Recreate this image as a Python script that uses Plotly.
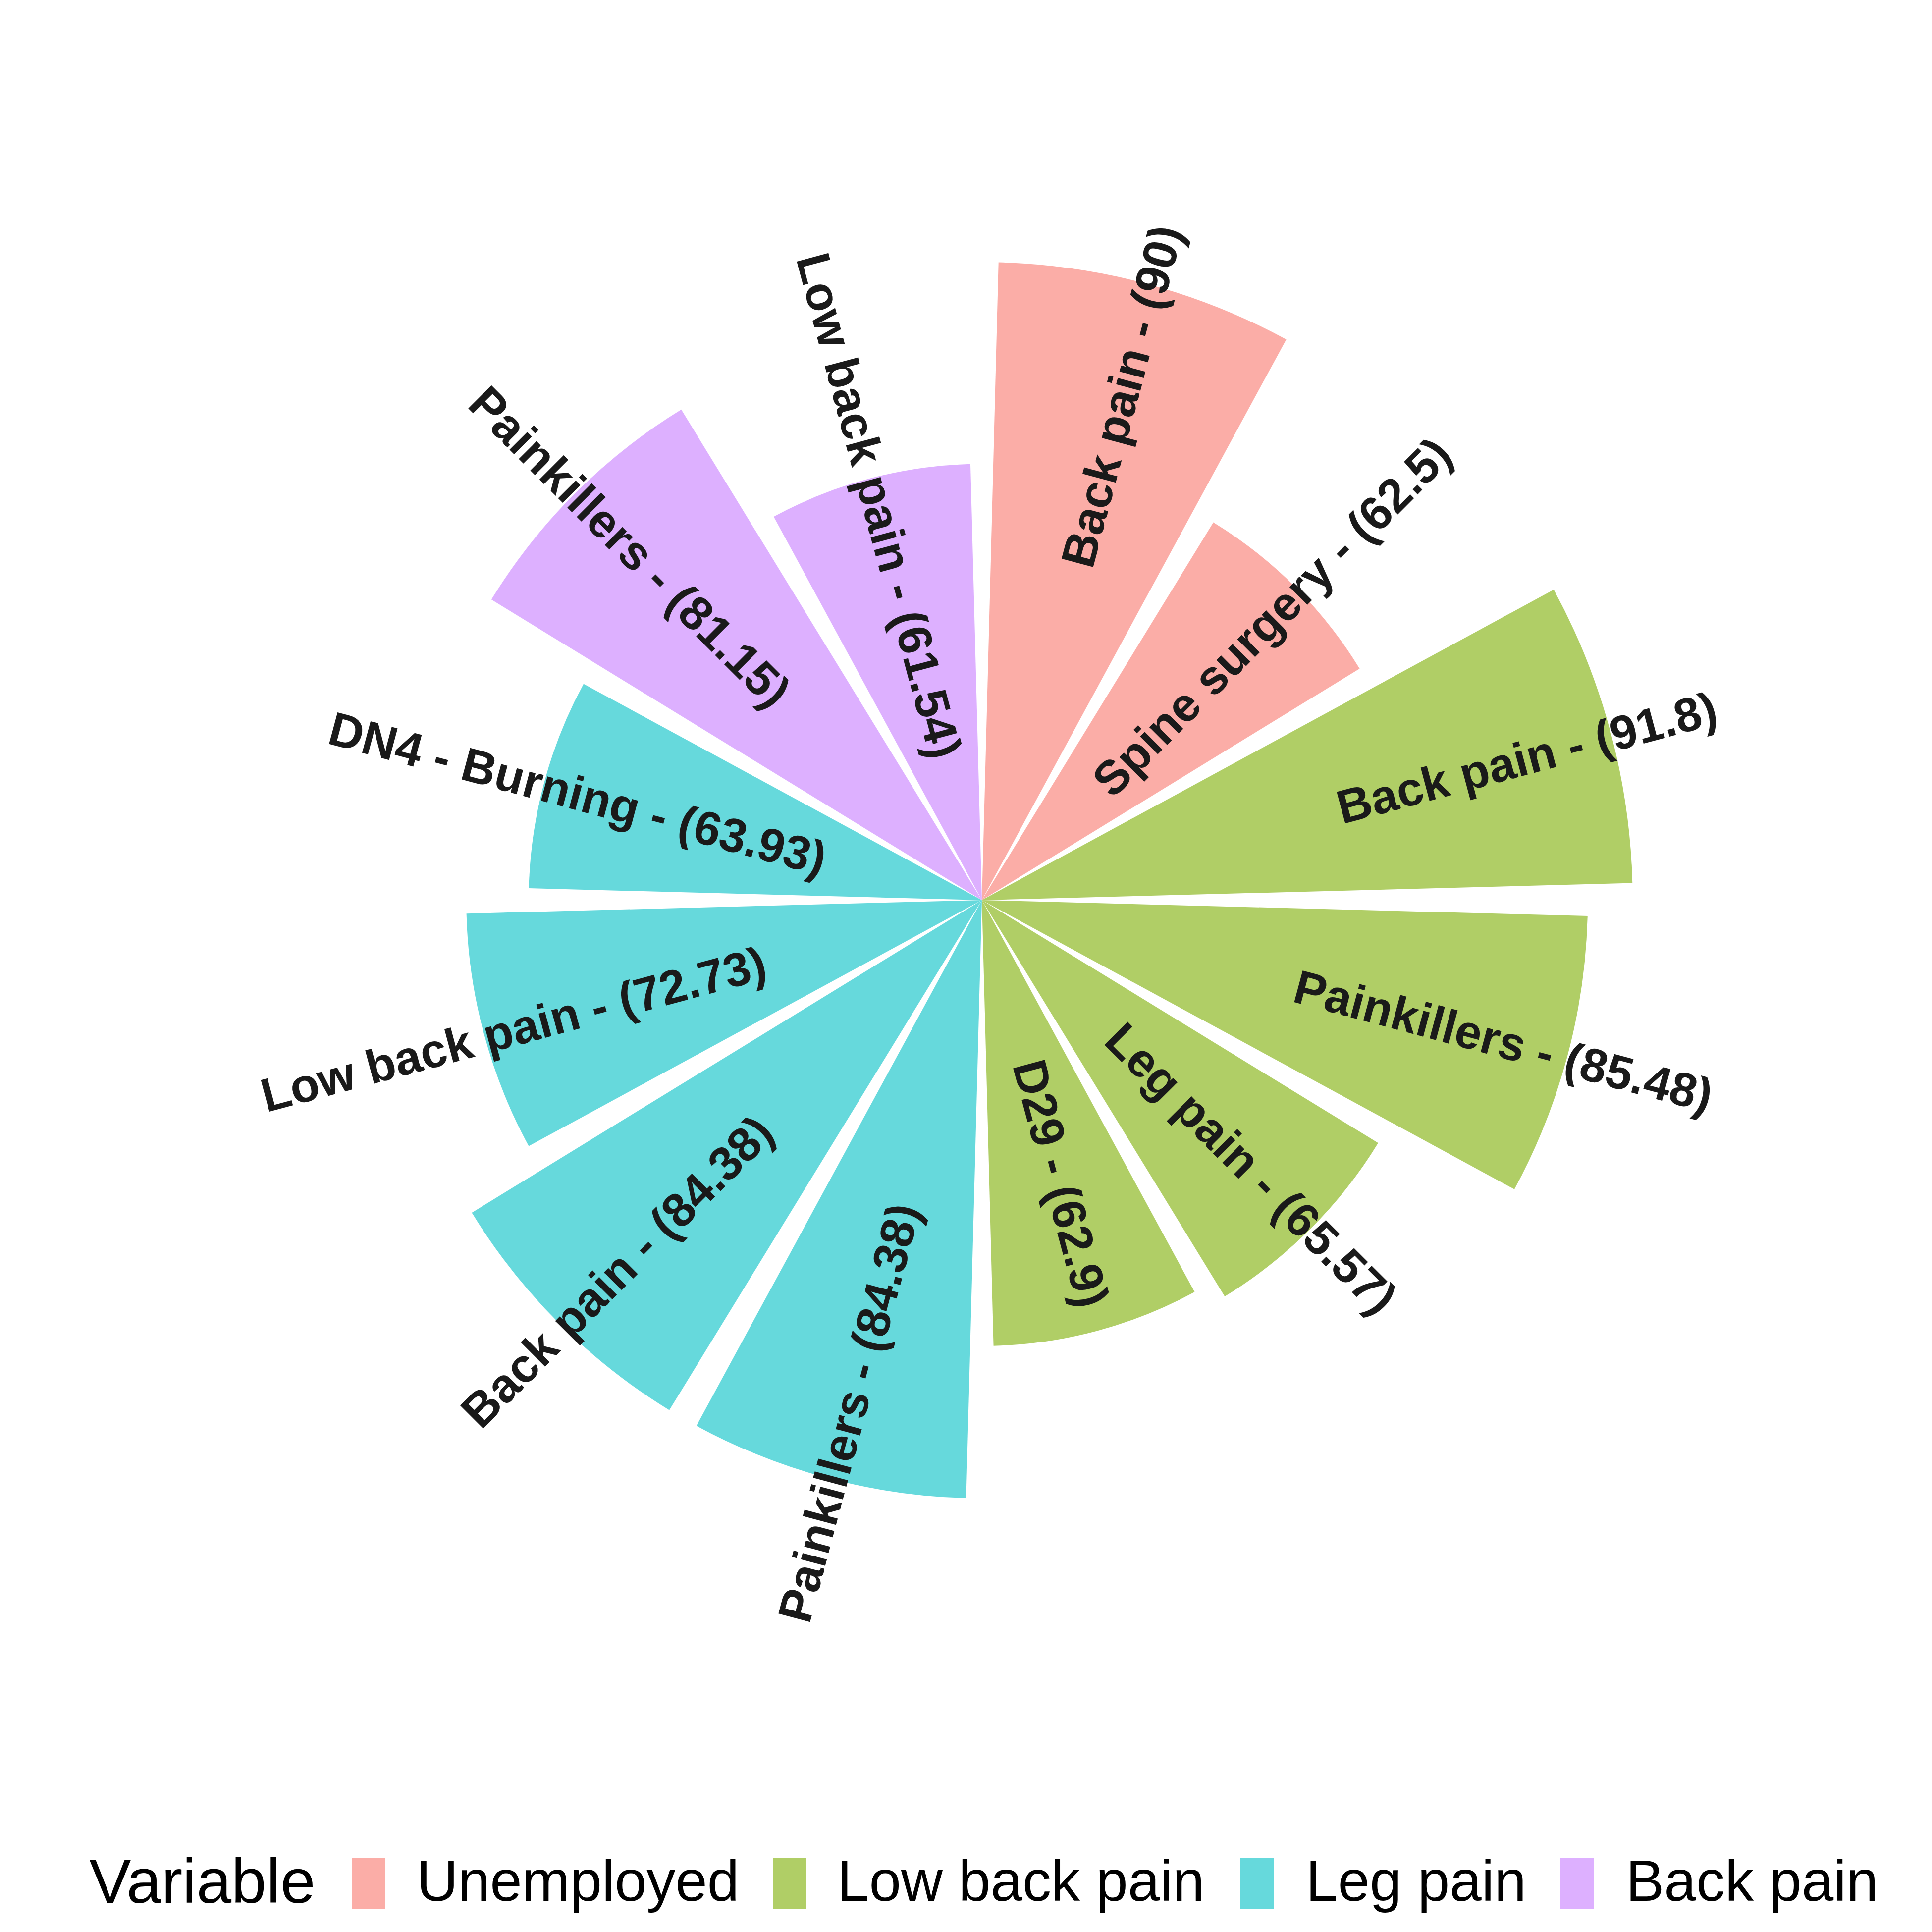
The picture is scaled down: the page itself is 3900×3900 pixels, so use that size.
import plotly.graph_objects as go
import math

# ---------------- data ----------------
groups = ["Unemployed", "Low back pain", "Leg pain", "Back pain"]
group_colors = ["#F8766D", "#7CAE00", "#00BFC4", "#C77CFF"]

items = ["Back pain", "Spine surgery",
         "Back pain", "Painkillers", "Leg pain", "D29",
         "Painkillers", "Back pain", "Low back pain", "DN4 - Burning",
         "Painkillers", "Low back pain"]
values = [90, 62.5,
          91.8, 85.48, 65.57, 62.9,
          84.38, 84.38, 72.73, 63.93,
          81.15, 61.54]
variable = ["Unemployed", "Unemployed",
            "Low back pain", "Low back pain", "Low back pain", "Low back pain",
            "Leg pain", "Leg pain", "Leg pain", "Leg pain",
            "Back pain", "Back pain"]
# radial position (data units) of each text label centre
label_y = [74, 57, 79, 75.6, 53, 41, 74.5, 73.6, 69, 59.6, 71, 58]

# ---------------- geometry ----------------
W = H = 3900
CX, CY = 1982, 1814          # pixel centre of the polar plot
DX, DY = -8, -5              # small correction for plotly's polar placement
RMAX = 100                   # radial axis max (data units)
PPU = 14.31                  # pixels per data unit
RPX = RMAX * PPU
dom_x = [(CX + DX - RPX) / W, (CX + DX + RPX) / W]
dom_y = [(H - (CY + DY) - RPX) / H, (H - (CY + DY) + RPX) / H]

n = len(values)
step = 360.0 / n
thetas = [(i + 0.5) * step for i in range(n)]

fig = go.Figure()
for g, col in zip(groups, group_colors):
    idx = [i for i in range(n) if variable[i] == g]
    fig.add_trace(go.Barpolar(
        r=[values[i] for i in idx],
        theta=[thetas[i] for i in idx],
        width=[step * 0.9] * len(idx),
        base=0,
        name=g,
        marker=dict(color=col, opacity=0.6, line=dict(width=0)),
        showlegend=False,
    ))

def fmt(v):
    return f"{v:g}"

FONT = "Liberation Sans, Arial, sans-serif"
annotations = []
for i in range(n):
    th = thetas[i]
    r = label_y[i]
    px = CX + r * PPU * math.sin(math.radians(th))
    py = CY - r * PPU * math.cos(math.radians(th))
    ang = th - 90 if th < 180 else th - 270
    annotations.append(dict(
        x=px / W, y=1 - py / H, xref="paper", yref="paper",
        text=f"{items[i]} - ({fmt(values[i])})",
        showarrow=False, xanchor="center", yanchor="middle",
        textangle=ang,
        font=dict(family=FONT, size=96, color="#1a1a1a", weight="bold"),
    ))

# ---------------- manual legend ----------------
leg_y_top, leg_y_bot = 3742, 3846
text_mid = 3789
annotations.append(dict(
    x=170 / W, y=1 - text_mid / H, xref="paper", yref="paper",
    text="Variable", showarrow=False, xanchor="left", yanchor="middle",
    font=dict(family=FONT, size=127, color="#000000"),
))
key_x = [702, 1553, 2496, 3142]
lab_x = [831, 1680, 2626, 3272]
shapes = []
for g, col, kx, lx in zip(groups, group_colors, key_x, lab_x):
    shapes.append(dict(type="rect", xref="paper", yref="paper",
                       x0=kx / W, x1=(kx + 67) / W,
                       y0=1 - leg_y_bot / H, y1=1 - leg_y_top / H,
                       fillcolor=col, opacity=0.6, line=dict(width=0)))
    annotations.append(dict(
        x=lx / W, y=1 - text_mid / H, xref="paper", yref="paper",
        text=g, showarrow=False, xanchor="left", yanchor="middle",
        font=dict(family=FONT, size=116, color="#000000"),
    ))

fig.update_layout(
    width=W, height=H,
    margin=dict(l=0, r=0, t=0, b=0),
    paper_bgcolor="white", plot_bgcolor="white",
    showlegend=False,
    polar=dict(
        domain=dict(x=dom_x, y=dom_y),
        bgcolor="white",
        barmode="overlay",
        radialaxis=dict(range=[0, RMAX], visible=False, showgrid=False,
                        showline=False, showticklabels=False),
        angularaxis=dict(rotation=90, direction="clockwise", visible=False,
                         showgrid=False, showline=False, showticklabels=False),
    ),
    annotations=annotations,
    shapes=shapes,
)

fig.write_html("out.html")
